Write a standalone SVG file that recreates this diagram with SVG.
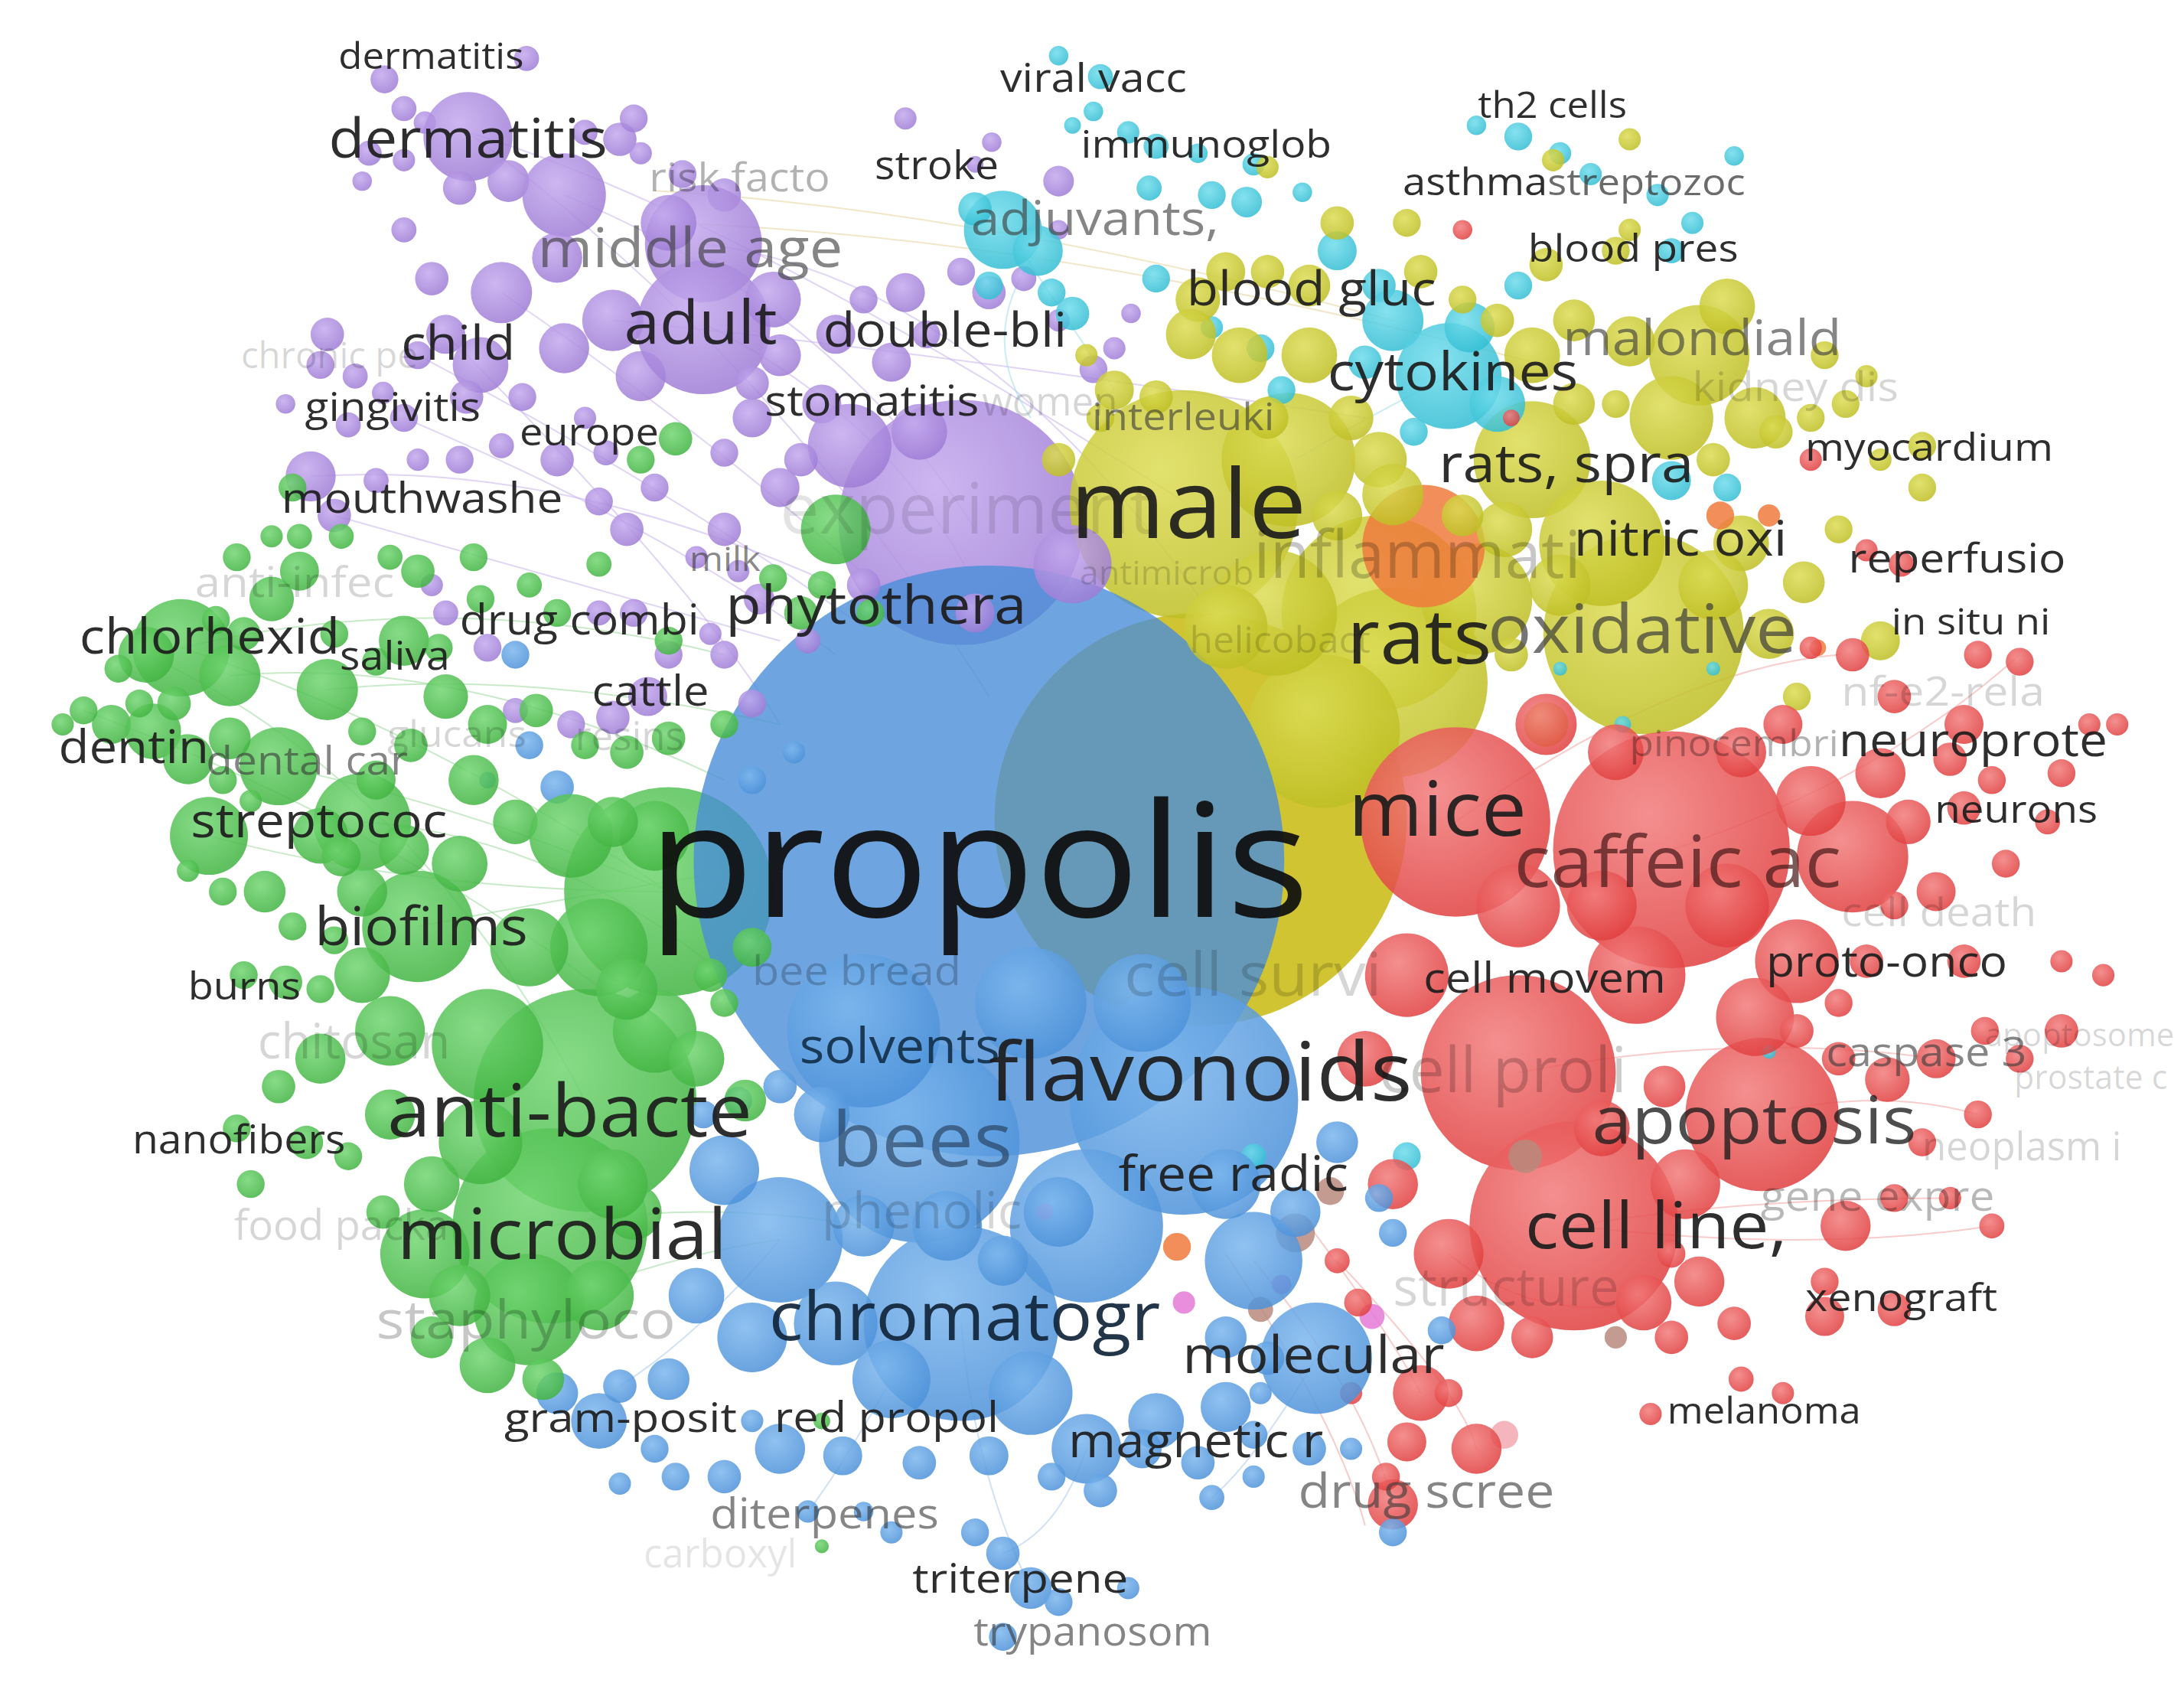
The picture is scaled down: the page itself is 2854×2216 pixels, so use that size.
<svg xmlns="http://www.w3.org/2000/svg" width="2854" height="2216" viewBox="0 0 2854 2216">
<defs>
<radialGradient id="Gp" cx="0.4" cy="0.35" r="0.7"><stop offset="0" stop-color="#c4a9ee"/><stop offset="1" stop-color="#9c7ad4"/></radialGradient>
<radialGradient id="Gg" cx="0.4" cy="0.35" r="0.7"><stop offset="0" stop-color="#72d672"/><stop offset="1" stop-color="#3fb23f"/></radialGradient>
<radialGradient id="Gb" cx="0.4" cy="0.35" r="0.7"><stop offset="0" stop-color="#7db7ee"/><stop offset="1" stop-color="#4b90d8"/></radialGradient>
<radialGradient id="Gy" cx="0.4" cy="0.35" r="0.7"><stop offset="0" stop-color="#dcdc55"/><stop offset="1" stop-color="#bdbd22"/></radialGradient>
<radialGradient id="Gr" cx="0.4" cy="0.35" r="0.7"><stop offset="0" stop-color="#f27c7c"/><stop offset="1" stop-color="#e03c3c"/></radialGradient>
<radialGradient id="Gc" cx="0.4" cy="0.35" r="0.7"><stop offset="0" stop-color="#70dcec"/><stop offset="1" stop-color="#30bcd2"/></radialGradient>
<style>
.p{fill:url(#Gp);fill-opacity:.85}
.g{fill:url(#Gg);fill-opacity:.85}
.b{fill:url(#Gb);fill-opacity:.85}
.y{fill:url(#Gy);fill-opacity:.85}
.r{fill:url(#Gr);fill-opacity:.85}
.c{fill:url(#Gc);fill-opacity:.85}
.o{fill:#ef7a3c;fill-opacity:.85}
.w{fill:#b8897c;fill-opacity:.85}
.k{fill:#e57ad6;fill-opacity:.85}
.lp{fill:#f2a8b0;fill-opacity:.85}
#connectors path{fill:none;stroke-width:1.1;stroke-opacity:.55}
.cp{stroke:#c7b3ec}.cg{stroke:#9dd89d}.cr{stroke:#f3a3a3}.cc{stroke:#9fdfea}.cb{stroke:#a9c8ec}.cy{stroke:#e6d49a}
text{font-family:"Open Sans","DejaVu Sans",sans-serif}
.d{fill:#1c1c1c;fill-opacity:.92}
.m{fill:#3a3a3a;fill-opacity:.62}
.f{fill:#000;fill-opacity:.16}
</style>
</defs>
<rect width="2854" height="2216" fill="#fff"/>
<g transform="scale(1.8202)">
<g id="connectors">
<path class="cp" d="M336,95 Q520,150 850,360"/>
<path class="cp" d="M505,175 Q700,200 862,430"/>
<path class="cp" d="M405,140 Q600,220 700,380"/>
<path class="cp" d="M336,95 Q560,260 710,500"/>
<path class="cp" d="M505,232 Q640,300 700,420"/>
<path class="cp" d="M360,210 Q520,320 640,430"/>
<path class="cp" d="M223,342 Q400,330 600,420"/>
<path class="cp" d="M300,255 Q480,350 620,450"/>
<path class="cy" d="M470,137 Q700,150 1000,230"/>
<path class="cy" d="M480,160 Q760,170 1100,260"/>
<path class="cp" d="M440,230 Q650,250 980,300"/>
<path class="cp" d="M320,240 Q500,420 560,520"/>
<path class="cp" d="M240,370 Q420,420 560,460"/>
<path class="cp" d="M290,300 Q480,380 600,470"/>
<path class="cg" d="M130,465 Q300,520 480,640"/>
<path class="cg" d="M200,550 Q340,580 480,640"/>
<path class="cg" d="M165,485 Q330,470 520,560"/>
<path class="cg" d="M105,470 Q300,560 420,790"/>
<path class="cg" d="M150,600 Q300,640 480,640"/>
<path class="cg" d="M260,590 Q400,600 520,700"/>
<path class="cg" d="M300,665 Q430,640 560,620"/>
<path class="cg" d="M235,495 Q380,480 560,520"/>
<path class="cg" d="M130,465 Q320,420 520,470"/>
<path class="cg" d="M395,880 Q500,860 620,880"/>
<path class="cg" d="M380,940 Q480,900 560,890"/>
<path class="cg" d="M60,510 Q300,600 470,740"/>
<path class="cr" d="M1130,880 Q1250,860 1400,860"/>
<path class="cr" d="M1130,880 Q1300,900 1430,880"/>
<path class="cr" d="M1090,770 Q1250,740 1390,760"/>
<path class="cr" d="M1200,610 Q1350,560 1450,470"/>
<path class="cr" d="M1265,800 Q1350,780 1420,800"/>
<path class="cr" d="M1045,590 Q1200,480 1320,470"/>
<path class="cr" d="M960,905 Q1050,1000 1060,1040"/>
<path class="cr" d="M900,905 Q980,1000 1000,1080"/>
<path class="cr" d="M1040,900 Q1100,950 1180,935"/>
<path class="cr" d="M940,880 Q1000,960 1020,1000"/>
<path class="cr" d="M880,900 Q960,1020 980,1095"/>
<path class="cc" d="M720,160 Q760,220 800,280"/>
<path class="cc" d="M745,180 Q700,240 740,300"/>
<path class="cc" d="M1040,270 Q980,300 930,330"/>
<path class="cb" d="M690,950 Q700,1060 740,1140"/>
<path class="cb" d="M560,890 Q500,960 445,995"/>
<path class="cb" d="M945,975 Q900,1050 870,1075"/>
<path class="cb" d="M780,1040 Q760,1100 720,1115"/>
<path class="cb" d="M640,990 Q600,1060 580,1085"/>
</g>
<g id="bubbles">
<circle class="p" cx="690" cy="375" r="88"/>
<circle cx="862" cy="588" r="148" fill="#cdbf22" fill-opacity=".92"/>
<circle class="y" cx="850" cy="362" r="82"/>
<circle class="y" cx="990" cy="440" r="70"/>
<circle class="y" cx="1000" cy="490" r="68"/>
<circle class="y" cx="1180" cy="455" r="72"/>
<circle class="y" cx="925" cy="330" r="48"/>
<circle class="y" cx="950" cy="525" r="55"/>
<circle class="y" cx="915" cy="440" r="45"/>
<circle class="y" cx="1100" cy="330" r="42"/>
<circle class="y" cx="1150" cy="390" r="45"/>
<circle class="y" cx="1060" cy="430" r="40"/>
<circle class="o" cx="1022" cy="392" r="44"/>
<circle class="g" cx="480" cy="640" r="75"/>
<circle class="g" cx="420" cy="790" r="80"/>
<circle class="g" cx="395" cy="880" r="70"/>
<circle cx="710" cy="618" r="212" fill="#4a8fd8" fill-opacity=".8"/>
<circle class="p" cx="770" cy="405" r="28"/>
<circle class="b" cx="850" cy="790" r="82"/>
<circle class="b" cx="660" cy="820" r="72"/>
<circle class="b" cx="690" cy="950" r="70"/>
<circle class="b" cx="620" cy="740" r="55"/>
<circle class="b" cx="780" cy="880" r="55"/>
<circle class="r" cx="1045" cy="590" r="68"/>
<circle class="r" cx="1200" cy="610" r="85"/>
<circle class="r" cx="1090" cy="770" r="70"/>
<circle class="r" cx="1265" cy="800" r="55"/>
<circle class="r" cx="1130" cy="880" r="75"/>
<!-- purple small -->
<circle class="p" cx="378" cy="42" r="9"/><circle class="p" cx="276" cy="57" r="10"/><circle class="p" cx="290" cy="78" r="9"/><circle class="p" cx="305" cy="88" r="8"/><circle class="p" cx="336" cy="98" r="32"/><circle class="p" cx="265" cy="110" r="9"/><circle class="p" cx="290" cy="115" r="8"/><circle class="p" cx="260" cy="130" r="7"/><circle class="p" cx="330" cy="135" r="12"/><circle class="p" cx="365" cy="130" r="15"/><circle class="p" cx="405" cy="140" r="30"/><circle class="p" cx="445" cy="100" r="12"/><circle class="p" cx="455" cy="85" r="10"/><circle class="p" cx="420" cy="95" r="9"/><circle class="p" cx="460" cy="110" r="8"/><circle class="p" cx="490" cy="125" r="10"/><circle class="p" cx="520" cy="140" r="12"/><circle class="p" cx="505" cy="175" r="42"/><circle class="p" cx="480" cy="160" r="20"/><circle class="p" cx="400" cy="185" r="18"/><circle class="p" cx="360" cy="210" r="22"/><circle class="p" cx="310" cy="200" r="12"/><circle class="p" cx="290" cy="165" r="9"/><circle class="p" cx="320" cy="240" r="14"/><circle class="p" cx="300" cy="255" r="10"/><circle class="p" cx="235" cy="240" r="12"/><circle class="p" cx="230" cy="262" r="10"/><circle class="p" cx="255" cy="270" r="9"/><circle class="p" cx="275" cy="282" r="8"/><circle class="p" cx="345" cy="262" r="20"/><circle class="p" cx="405" cy="250" r="18"/><circle class="p" cx="440" cy="230" r="22"/><circle class="p" cx="460" cy="270" r="18"/><circle class="p" cx="505" cy="235" r="48"/><circle class="p" cx="555" cy="215" r="20"/><circle class="p" cx="560" cy="255" r="15"/><circle class="p" cx="540" cy="275" r="12"/><circle class="p" cx="600" cy="240" r="14"/><circle class="p" cx="620" cy="215" r="10"/><circle class="p" cx="650" cy="210" r="14"/><circle class="p" cx="665" cy="240" r="10"/><circle class="p" cx="710" cy="210" r="12"/><circle class="p" cx="735" cy="200" r="9"/><circle class="p" cx="690" cy="195" r="10"/><circle class="p" cx="650" cy="85" r="8"/><circle class="p" cx="712" cy="102" r="7"/><circle class="p" cx="700" cy="118" r="6"/><circle class="p" cx="760" cy="130" r="11"/><circle class="p" cx="812" cy="225" r="7"/><circle class="p" cx="800" cy="250" r="8"/><circle class="p" cx="785" cy="265" r="10"/><circle class="p" cx="540" cy="300" r="14"/><circle class="p" cx="520" cy="325" r="10"/><circle class="p" cx="590" cy="290" r="14"/><circle class="p" cx="610" cy="320" r="30"/><circle class="p" cx="660" cy="310" r="20"/><circle class="p" cx="640" cy="260" r="14"/><circle class="p" cx="575" cy="330" r="12"/><circle class="p" cx="560" cy="350" r="14"/><circle class="p" cx="520" cy="380" r="12"/><circle class="p" cx="500" cy="400" r="8"/><circle class="p" cx="470" cy="350" r="10"/><circle class="p" cx="450" cy="380" r="12"/><circle class="p" cx="430" cy="360" r="10"/><circle class="p" cx="420" cy="300" r="8"/><circle class="p" cx="400" cy="330" r="12"/><circle class="p" cx="360" cy="320" r="9"/><circle class="p" cx="330" cy="330" r="10"/><circle class="p" cx="300" cy="330" r="8"/><circle class="p" cx="270" cy="345" r="9"/><circle class="p" cx="223" cy="342" r="18"/><circle class="p" cx="240" cy="370" r="12"/><circle class="p" cx="205" cy="290" r="7"/><circle class="p" cx="250" cy="305" r="9"/><circle class="p" cx="290" cy="300" r="10"/><circle class="p" cx="335" cy="285" r="12"/><circle class="p" cx="375" cy="285" r="10"/><circle class="p" cx="435" cy="325" r="9"/><circle class="p" cx="455" cy="440" r="10"/><circle class="p" cx="430" cy="440" r="9"/><circle class="p" cx="510" cy="455" r="8"/><circle class="p" cx="520" cy="470" r="10"/><circle class="p" cx="480" cy="470" r="10"/><circle class="p" cx="465" cy="500" r="14"/><circle class="p" cx="440" cy="515" r="12"/><circle class="p" cx="410" cy="520" r="10"/><circle class="p" cx="370" cy="510" r="9"/><circle class="p" cx="320" cy="440" r="9"/><circle class="p" cx="350" cy="465" r="10"/><circle class="p" cx="310" cy="420" r="8"/><circle class="p" cx="530" cy="410" r="8"/><circle class="p" cx="545" cy="430" r="11"/><circle class="p" cx="620" cy="420" r="12"/><circle class="p" cx="540" cy="505" r="10"/><circle class="p" cx="580" cy="460" r="9"/><circle class="p" cx="760" cy="165" r="7"/><circle class="p" cx="760" cy="230" r="8"/><circle class="p" cx="700" cy="440" r="14"/>
<!-- cyan -->
<circle class="c" cx="760" cy="40" r="7"/><circle class="c" cx="790" cy="55" r="9"/><circle class="c" cx="785" cy="80" r="7"/><circle class="c" cx="770" cy="90" r="6"/><circle class="c" cx="810" cy="95" r="8"/><circle class="c" cx="830" cy="105" r="9"/><circle class="c" cx="860" cy="110" r="7"/><circle class="c" cx="900" cy="118" r="8"/><circle class="c" cx="825" cy="135" r="9"/><circle class="c" cx="870" cy="140" r="10"/><circle class="c" cx="895" cy="145" r="11"/><circle class="c" cx="935" cy="138" r="7"/><circle class="c" cx="720" cy="165" r="28"/><circle class="c" cx="745" cy="180" r="18"/><circle class="c" cx="700" cy="150" r="12"/><circle class="c" cx="710" cy="205" r="10"/><circle class="c" cx="755" cy="210" r="10"/><circle class="c" cx="770" cy="225" r="12"/><circle class="c" cx="830" cy="200" r="10"/><circle class="c" cx="870" cy="235" r="8"/><circle class="c" cx="905" cy="250" r="10"/><circle class="c" cx="960" cy="180" r="14"/><circle class="c" cx="990" cy="205" r="12"/><circle class="c" cx="1000" cy="230" r="22"/><circle class="c" cx="980" cy="260" r="12"/><circle class="c" cx="1040" cy="270" r="38"/><circle class="c" cx="1055" cy="235" r="18"/><circle class="c" cx="1075" cy="290" r="20"/><circle class="c" cx="1015" cy="310" r="10"/><circle class="c" cx="1060" cy="90" r="7"/><circle class="c" cx="1090" cy="98" r="10"/><circle class="c" cx="1120" cy="110" r="8"/><circle class="c" cx="1142" cy="125" r="8"/><circle class="c" cx="1190" cy="140" r="8"/><circle class="c" cx="1245" cy="112" r="7"/><circle class="c" cx="1215" cy="160" r="8"/><circle class="c" cx="1200" cy="180" r="9"/><circle class="c" cx="1090" cy="205" r="10"/><circle class="c" cx="920" cy="280" r="10"/><circle class="c" cx="1200" cy="345" r="14"/><circle class="c" cx="1240" cy="350" r="10"/><circle class="c" cx="1120" cy="480" r="5"/><circle class="c" cx="1165" cy="520" r="6"/><circle class="c" cx="1230" cy="480" r="5"/><circle class="c" cx="1270" cy="755" r="5"/><circle class="c" cx="1010" cy="830" r="10"/><circle class="c" cx="900" cy="830" r="9"/>
<!-- yellow -->
<circle class="y" cx="1220" cy="255" r="36"/><circle class="y" cx="1200" cy="300" r="30"/><circle class="y" cx="1260" cy="300" r="22"/><circle class="y" cx="1240" cy="220" r="20"/><circle class="y" cx="1170" cy="245" r="18"/><circle class="y" cx="1130" cy="230" r="15"/><circle class="y" cx="1100" cy="255" r="20"/><circle class="y" cx="1110" cy="190" r="12"/><circle class="y" cx="1160" cy="180" r="10"/><circle class="y" cx="1075" cy="230" r="12"/><circle class="y" cx="1010" cy="160" r="10"/><circle class="y" cx="1020" cy="195" r="12"/><circle class="y" cx="1050" cy="215" r="10"/><circle class="y" cx="960" cy="160" r="12"/><circle class="y" cx="940" cy="205" r="15"/><circle class="y" cx="910" cy="195" r="12"/><circle class="y" cx="880" cy="195" r="14"/><circle class="y" cx="860" cy="215" r="16"/><circle class="y" cx="855" cy="240" r="18"/><circle class="y" cx="890" cy="255" r="20"/><circle class="y" cx="940" cy="255" r="20"/><circle class="y" cx="970" cy="300" r="16"/><circle class="y" cx="990" cy="330" r="20"/><circle class="y" cx="1000" cy="355" r="22"/><circle class="y" cx="960" cy="370" r="18"/><circle class="y" cx="1130" cy="290" r="15"/><circle class="y" cx="1160" cy="290" r="10"/><circle class="y" cx="1230" cy="330" r="12"/><circle class="y" cx="1275" cy="310" r="12"/><circle class="y" cx="1300" cy="300" r="10"/><circle class="y" cx="1325" cy="290" r="10"/><circle class="y" cx="1310" cy="255" r="10"/><circle class="y" cx="1340" cy="270" r="8"/><circle class="y" cx="1350" cy="330" r="8"/><circle class="y" cx="1380" cy="350" r="10"/><circle class="y" cx="1380" cy="320" r="10"/><circle class="y" cx="1295" cy="418" r="15"/><circle class="y" cx="1350" cy="460" r="14"/><circle class="y" cx="1320" cy="380" r="10"/><circle class="y" cx="1250" cy="390" r="20"/><circle class="y" cx="1230" cy="420" r="25"/><circle class="y" cx="1270" cy="455" r="18"/><circle class="y" cx="1290" cy="500" r="10"/><circle class="y" cx="1115" cy="115" r="8"/><circle class="y" cx="1170" cy="100" r="8"/><circle class="y" cx="1170" cy="165" r="8"/><circle class="y" cx="910" cy="120" r="8"/><circle class="y" cx="1080" cy="380" r="20"/><circle class="y" cx="1120" cy="420" r="22"/><circle class="y" cx="1050" cy="370" r="15"/><circle class="y" cx="880" cy="450" r="30"/><circle class="y" cx="800" cy="280" r="14"/><circle class="y" cx="790" cy="300" r="10"/><circle class="y" cx="760" cy="330" r="12"/><circle class="y" cx="780" cy="255" r="8"/><circle class="y" cx="830" cy="285" r="12"/><circle class="y" cx="910" cy="300" r="15"/><circle class="y" cx="1110" cy="520" r="16"/><circle class="y" cx="1085" cy="470" r="12"/>
<!-- orange/brown/pink -->
<circle class="o" cx="1235" cy="370" r="10"/><circle class="o" cx="1270" cy="370" r="8"/><circle class="o" cx="845" cy="895" r="10"/><circle class="o" cx="1305" cy="465" r="6"/>
<circle class="w" cx="1095" cy="830" r="12"/><circle class="w" cx="955" cy="855" r="10"/><circle class="w" cx="905" cy="940" r="9"/><circle class="k" cx="920" cy="922" r="7"/><circle class="k" cx="850" cy="935" r="8"/><circle class="k" cx="985" cy="945" r="9"/><circle class="k" cx="750" cy="870" r="6"/><circle class="lp" cx="1080" cy="1030" r="10"/><circle class="w" cx="1160" cy="960" r="8"/><circle class="w" cx="930" cy="885" r="14"/>
<!-- red small -->
<circle class="r" cx="1330" cy="615" r="40"/><circle class="r" cx="1290" cy="690" r="30"/><circle class="r" cx="1175" cy="700" r="35"/><circle class="r" cx="1260" cy="730" r="28"/><circle class="r" cx="1300" cy="575" r="25"/><circle class="r" cx="1350" cy="555" r="18"/><circle class="r" cx="1400" cy="545" r="12"/><circle class="r" cx="1410" cy="520" r="14"/><circle class="r" cx="1360" cy="500" r="12"/><circle class="r" cx="1330" cy="470" r="12"/><circle class="r" cx="1420" cy="470" r="10"/><circle class="r" cx="1450" cy="475" r="10"/><circle class="r" cx="1300" cy="465" r="8"/><circle class="r" cx="1280" cy="520" r="14"/><circle class="r" cx="1250" cy="540" r="18"/><circle class="r" cx="1160" cy="540" r="20"/><circle class="r" cx="1110" cy="520" r="22"/><circle class="r" cx="1090" cy="650" r="30"/><circle class="r" cx="1010" cy="700" r="30"/><circle class="r" cx="980" cy="760" r="20"/><circle class="r" cx="1000" cy="850" r="18"/><circle class="r" cx="1040" cy="900" r="25"/><circle class="r" cx="1060" cy="950" r="20"/><circle class="r" cx="1020" cy="1000" r="20"/><circle class="r" cx="1010" cy="1035" r="14"/><circle class="r" cx="1060" cy="1040" r="18"/><circle class="r" cx="1000" cy="1080" r="18"/><circle class="r" cx="995" cy="1060" r="10"/><circle class="r" cx="960" cy="905" r="9"/><circle class="r" cx="975" cy="935" r="10"/><circle class="r" cx="1100" cy="960" r="15"/><circle class="r" cx="1180" cy="935" r="20"/><circle class="r" cx="1220" cy="920" r="18"/><circle class="r" cx="1200" cy="960" r="12"/><circle class="r" cx="1245" cy="950" r="12"/><circle class="r" cx="1310" cy="945" r="14"/><circle class="r" cx="1360" cy="940" r="12"/><circle class="r" cx="1325" cy="880" r="18"/><circle class="r" cx="1360" cy="860" r="10"/><circle class="r" cx="1400" cy="860" r="8"/><circle class="r" cx="1430" cy="880" r="9"/><circle class="r" cx="1380" cy="820" r="10"/><circle class="r" cx="1420" cy="800" r="10"/><circle class="r" cx="1450" cy="760" r="10"/><circle class="r" cx="1480" cy="740" r="12"/><circle class="r" cx="1510" cy="700" r="8"/><circle class="r" cx="1480" cy="690" r="8"/><circle class="r" cx="1425" cy="740" r="10"/><circle class="r" cx="1390" cy="760" r="14"/><circle class="r" cx="1355" cy="775" r="16"/><circle class="r" cx="1320" cy="760" r="12"/><circle class="r" cx="1290" cy="740" r="12"/><circle class="r" cx="1410" cy="690" r="12"/><circle class="r" cx="1390" cy="640" r="14"/><circle class="r" cx="1440" cy="620" r="10"/><circle class="r" cx="1470" cy="590" r="9"/><circle class="r" cx="1480" cy="555" r="10"/><circle class="r" cx="1500" cy="520" r="8"/><circle class="r" cx="1520" cy="520" r="8"/><circle class="r" cx="1430" cy="560" r="10"/><circle class="r" cx="1410" cy="580" r="12"/><circle class="r" cx="1370" cy="590" r="16"/><circle class="r" cx="1360" cy="650" r="10"/><circle class="r" cx="1320" cy="720" r="10"/><circle class="r" cx="1200" cy="900" r="10"/><circle class="r" cx="1185" cy="1015" r="8"/><circle class="r" cx="1250" cy="990" r="9"/><circle class="r" cx="1280" cy="1000" r="8"/><circle class="r" cx="1310" cy="920" r="10"/><circle class="r" cx="1040" cy="1000" r="10"/><circle class="r" cx="970" cy="1000" r="8"/><circle class="r" cx="1150" cy="810" r="20"/><circle class="r" cx="1210" cy="850" r="25"/><circle class="r" cx="1195" cy="780" r="15"/><circle class="r" cx="1340" cy="690" r="12"/><circle class="r" cx="1300" cy="330" r="8"/><circle class="r" cx="1340" cy="395" r="8"/><circle class="r" cx="1365" cy="405" r="9"/><circle class="r" cx="1050" cy="165" r="7"/><circle class="r" cx="1085" cy="300" r="6"/><circle class="r" cx="1240" cy="650" r="30"/><circle class="r" cx="1150" cy="650" r="25"/>
<!-- blue small -->
<circle class="b" cx="945" cy="975" r="40"/><circle class="b" cx="560" cy="890" r="45"/><circle class="b" cx="900" cy="905" r="35"/><circle class="b" cx="740" cy="720" r="40"/><circle class="b" cx="820" cy="720" r="35"/><circle class="b" cx="600" cy="950" r="30"/><circle class="b" cx="640" cy="990" r="28"/><circle class="b" cx="740" cy="1000" r="30"/><circle class="b" cx="780" cy="1040" r="25"/><circle class="b" cx="830" cy="1020" r="20"/><circle class="b" cx="880" cy="1010" r="18"/><circle class="b" cx="520" cy="840" r="25"/><circle class="b" cx="540" cy="960" r="25"/><circle class="b" cx="500" cy="930" r="20"/><circle class="b" cx="480" cy="990" r="15"/><circle class="b" cx="430" cy="1020" r="20"/><circle class="b" cx="400" cy="1000" r="15"/><circle class="b" cx="445" cy="995" r="12"/><circle class="b" cx="470" cy="1040" r="10"/><circle class="b" cx="520" cy="1060" r="12"/><circle class="b" cx="560" cy="1040" r="18"/><circle class="b" cx="605" cy="1045" r="14"/><circle class="b" cx="660" cy="1050" r="12"/><circle class="b" cx="710" cy="1045" r="14"/><circle class="b" cx="755" cy="1060" r="10"/><circle class="b" cx="790" cy="1070" r="12"/><circle class="b" cx="820" cy="1040" r="14"/><circle class="b" cx="860" cy="1050" r="12"/><circle class="b" cx="900" cy="1030" r="10"/><circle class="b" cx="940" cy="1040" r="12"/><circle class="b" cx="970" cy="1040" r="8"/><circle class="b" cx="640" cy="1100" r="8"/><circle class="b" cx="580" cy="1085" r="8"/><circle class="b" cx="620" cy="1085" r="7"/><circle class="b" cx="700" cy="1100" r="10"/><circle class="b" cx="720" cy="1115" r="12"/><circle class="b" cx="740" cy="1140" r="15"/><circle class="b" cx="760" cy="1150" r="10"/><circle class="b" cx="810" cy="1140" r="8"/><circle class="b" cx="720" cy="1175" r="10"/><circle class="b" cx="540" cy="1020" r="8"/><circle class="b" cx="870" cy="1075" r="9"/><circle class="b" cx="900" cy="1060" r="8"/><circle class="b" cx="540" cy="560" r="10"/><circle class="b" cx="570" cy="540" r="8"/><circle class="b" cx="380" cy="535" r="10"/><circle class="b" cx="400" cy="565" r="12"/><circle class="b" cx="370" cy="470" r="10"/><circle class="b" cx="350" cy="560" r="6"/><circle class="b" cx="760" cy="870" r="25"/><circle class="b" cx="880" cy="850" r="25"/><circle class="b" cx="930" cy="870" r="18"/><circle class="b" cx="960" cy="820" r="15"/><circle class="b" cx="990" cy="860" r="10"/><circle class="b" cx="1000" cy="885" r="10"/><circle class="b" cx="720" cy="905" r="18"/><circle class="b" cx="620" cy="880" r="22"/><circle class="b" cx="680" cy="880" r="25"/><circle class="b" cx="590" cy="800" r="20"/><circle class="b" cx="560" cy="780" r="12"/><circle class="b" cx="530" cy="790" r="10"/><circle class="b" cx="505" cy="800" r="10"/><circle class="b" cx="1000" cy="1100" r="10"/><circle class="b" cx="910" cy="975" r="12"/><circle class="b" cx="880" cy="960" r="15"/><circle class="b" cx="485" cy="1060" r="10"/><circle class="b" cx="445" cy="1065" r="8"/><circle class="b" cx="905" cy="1000" r="8"/><circle class="b" cx="1035" cy="955" r="10"/>
<!-- green small -->
<circle class="g" cx="300" cy="665" r="40"/><circle class="g" cx="130" cy="465" r="35"/><circle class="g" cx="200" cy="550" r="28"/><circle class="g" cx="150" cy="600" r="28"/><circle class="g" cx="260" cy="590" r="35"/><circle class="g" cx="350" cy="750" r="40"/><circle class="g" cx="345" cy="820" r="30"/><circle class="g" cx="380" cy="940" r="40"/><circle class="g" cx="305" cy="900" r="32"/><circle class="g" cx="235" cy="495" r="22"/><circle class="g" cx="165" cy="485" r="22"/><circle class="g" cx="105" cy="470" r="20"/><circle class="g" cx="80" cy="520" r="14"/><circle class="g" cx="60" cy="510" r="10"/><circle class="g" cx="45" cy="520" r="8"/><circle class="g" cx="110" cy="525" r="20"/><circle class="g" cx="135" cy="545" r="18"/><circle class="g" cx="165" cy="530" r="15"/><circle class="g" cx="175" cy="455" r="12"/><circle class="g" cx="195" cy="430" r="16"/><circle class="g" cx="215" cy="410" r="14"/><circle class="g" cx="170" cy="400" r="10"/><circle class="g" cx="195" cy="385" r="8"/><circle class="g" cx="215" cy="385" r="9"/><circle class="g" cx="245" cy="385" r="9"/><circle class="g" cx="280" cy="400" r="9"/><circle class="g" cx="300" cy="410" r="12"/><circle class="g" cx="340" cy="400" r="10"/><circle class="g" cx="345" cy="430" r="10"/><circle class="g" cx="380" cy="420" r="9"/><circle class="g" cx="400" cy="440" r="10"/><circle class="g" cx="290" cy="460" r="18"/><circle class="g" cx="320" cy="500" r="16"/><circle class="g" cx="350" cy="520" r="14"/><circle class="g" cx="385" cy="510" r="12"/><circle class="g" cx="420" cy="535" r="10"/><circle class="g" cx="450" cy="540" r="12"/><circle class="g" cx="480" cy="530" r="12"/><circle class="g" cx="520" cy="520" r="10"/><circle class="g" cx="340" cy="560" r="18"/><circle class="g" cx="370" cy="590" r="16"/><circle class="g" cx="410" cy="600" r="30"/><circle class="g" cx="430" cy="680" r="35"/><circle class="g" cx="380" cy="680" r="28"/><circle class="g" cx="270" cy="560" r="14"/><circle class="g" cx="230" cy="600" r="20"/><circle class="g" cx="190" cy="640" r="15"/><circle class="g" cx="160" cy="640" r="10"/><circle class="g" cx="135" cy="625" r="8"/><circle class="g" cx="175" cy="700" r="10"/><circle class="g" cx="205" cy="705" r="12"/><circle class="g" cx="230" cy="710" r="10"/><circle class="g" cx="260" cy="700" r="20"/><circle class="g" cx="280" cy="740" r="25"/><circle class="g" cx="230" cy="760" r="18"/><circle class="g" cx="200" cy="780" r="12"/><circle class="g" cx="170" cy="810" r="10"/><circle class="g" cx="180" cy="850" r="10"/><circle class="g" cx="220" cy="820" r="12"/><circle class="g" cx="250" cy="830" r="10"/><circle class="g" cx="275" cy="870" r="12"/><circle class="g" cx="280" cy="800" r="18"/><circle class="g" cx="310" cy="850" r="20"/><circle class="g" cx="330" cy="930" r="22"/><circle class="g" cx="310" cy="960" r="15"/><circle class="g" cx="350" cy="980" r="20"/><circle class="g" cx="390" cy="990" r="15"/><circle class="g" cx="430" cy="930" r="25"/><circle class="g" cx="455" cy="870" r="20"/><circle class="g" cx="470" cy="740" r="30"/><circle class="g" cx="500" cy="760" r="20"/><circle class="g" cx="450" cy="710" r="22"/><circle class="g" cx="540" cy="680" r="14"/><circle class="g" cx="510" cy="700" r="12"/><circle class="g" cx="535" cy="790" r="15"/><circle class="g" cx="520" cy="720" r="10"/><circle class="g" cx="480" cy="460" r="10"/><circle class="g" cx="555" cy="415" r="10"/><circle class="g" cx="590" cy="420" r="10"/><circle class="g" cx="440" cy="850" r="25"/><circle class="g" cx="260" cy="640" r="18"/><circle class="g" cx="330" cy="620" r="20"/><circle class="g" cx="470" cy="600" r="25"/><circle class="g" cx="440" cy="590" r="18"/><circle class="g" cx="85" cy="480" r="10"/><circle class="g" cx="100" cy="505" r="10"/><circle class="g" cx="125" cy="505" r="12"/><circle class="g" cx="155" cy="445" r="10"/><circle class="g" cx="240" cy="455" r="10"/><circle class="g" cx="270" cy="475" r="10"/><circle class="g" cx="315" cy="465" r="10"/><circle class="g" cx="260" cy="525" r="10"/><circle class="g" cx="295" cy="535" r="12"/><circle class="g" cx="160" cy="560" r="10"/><circle class="g" cx="180" cy="575" r="8"/><circle class="g" cx="245" cy="615" r="14"/><circle class="g" cx="210" cy="665" r="10"/><circle class="g" cx="240" cy="675" r="10"/><circle class="g" cx="290" cy="610" r="18"/><circle class="g" cx="590" cy="1020" r="6"/><circle class="g" cx="590" cy="1110" r="5"/><circle class="g" cx="460" cy="330" r="10"/><circle class="g" cx="485" cy="315" r="12"/><circle class="g" cx="600" cy="380" r="25"/><circle class="g" cx="575" cy="440" r="12"/><circle class="g" cx="625" cy="440" r="10"/><circle class="g" cx="210" cy="350" r="10"/><circle class="g" cx="430" cy="405" r="9"/>
</g>
<g id="labels">
<text id="n-dermatitis-1" class="d" x="243" y="49.5" font-size="26" textLength="133" lengthAdjust="spacingAndGlyphs">dermatitis</text>
<text id="n-dermatitis-2" class="d" x="236" y="113" font-size="39" textLength="200" lengthAdjust="spacingAndGlyphs">dermatitis</text>
<text id="n-risk-facto" class="f" x="466" y="137.5" font-size="28" textLength="130" lengthAdjust="spacingAndGlyphs" style="fill-opacity:.3">risk facto</text>
<text id="n-middle-age" class="m" x="386" y="192" font-size="39" textLength="219" lengthAdjust="spacingAndGlyphs">middle age</text>
<text id="n-adult" class="d" x="448" y="246.5" font-size="43" textLength="110" lengthAdjust="spacingAndGlyphs">adult</text>
<text id="n-viral-vacc" class="d" x="718" y="66" font-size="28" textLength="134" lengthAdjust="spacingAndGlyphs">viral vacc</text>
<text id="n-stroke" class="d" x="628" y="128.5" font-size="28" textLength="89" lengthAdjust="spacingAndGlyphs">stroke</text>
<text id="n-immunoglob" class="d" x="776" y="113" font-size="27" textLength="180" lengthAdjust="spacingAndGlyphs">immunoglob</text>
<text id="n-th2-cells" class="d" x="1061" y="84.5" font-size="26" textLength="107" lengthAdjust="spacingAndGlyphs">th2 cells</text>
<text id="n-asthma" class="d" x="1007" y="140" font-size="27" textLength="104" lengthAdjust="spacingAndGlyphs">asthma</text>
<text id="n-streptozoc" class="m" x="1111" y="140" font-size="26" textLength="142" lengthAdjust="spacingAndGlyphs" style="fill-opacity:.75">streptozoc</text>
<text id="n-blood-pres" class="d" x="1097" y="188" font-size="27" textLength="151" lengthAdjust="spacingAndGlyphs">blood pres</text>
<text id="n-adjuvants" class="m" x="697" y="168.5" font-size="34" textLength="178" lengthAdjust="spacingAndGlyphs">adjuvants,</text>
<text id="n-blood-gluc" class="d" x="852" y="219" font-size="34" textLength="179" lengthAdjust="spacingAndGlyphs">blood gluc</text>
<text id="n-malondiald" class="m" x="1122" y="255" font-size="35" textLength="200" lengthAdjust="spacingAndGlyphs">malondiald</text>
<text id="n-kidney-dis" class="f" x="1215" y="288" font-size="29" textLength="148" lengthAdjust="spacingAndGlyphs">kidney dis</text>
<text id="n-child" class="d" x="288" y="258" font-size="34" textLength="82" lengthAdjust="spacingAndGlyphs">child</text>
<text id="n-chronic-pe" class="f" x="173" y="264" font-size="26">chronic pe</text>
<text id="n-double-bli" class="d" x="591" y="249" font-size="34" textLength="175" lengthAdjust="spacingAndGlyphs">double-bli</text>
<text id="n-cytokines" class="d" x="953" y="280" font-size="38" textLength="180" lengthAdjust="spacingAndGlyphs">cytokines</text>
<text id="n-gingivitis" class="d" x="219" y="302" font-size="28" textLength="126" lengthAdjust="spacingAndGlyphs">gingivitis</text>
<text id="n-stomatitis" class="d" x="549" y="298.5" font-size="30" textLength="154" lengthAdjust="spacingAndGlyphs">stomatitis</text>
<text id="n-women" class="f" x="705" y="298.5" font-size="28">women</text>
<text id="n-interleuki" class="m" x="784" y="308.5" font-size="27" textLength="131" lengthAdjust="spacingAndGlyphs">interleuki</text>
<text id="n-rats-spra" class="d" x="1033" y="346" font-size="38" textLength="183" lengthAdjust="spacingAndGlyphs">rats, spra</text>
<text id="n-myocardium" class="d" x="1296" y="330.5" font-size="27" textLength="178" lengthAdjust="spacingAndGlyphs">myocardium</text>
<text id="n-europe" class="d" x="373" y="320" font-size="27" textLength="100" lengthAdjust="spacingAndGlyphs">europe</text>
<text id="n-mouthwashe" class="d" x="202" y="368" font-size="30" textLength="202" lengthAdjust="spacingAndGlyphs">mouthwashe</text>
<text id="n-experiment" class="f" x="560" y="383" font-size="50" style="fill-opacity:.11">experiment</text>
<text id="n-male" class="d" x="768" y="386" font-size="68" textLength="170" lengthAdjust="spacingAndGlyphs">male</text>
<text id="n-inflammati" class="f" x="900" y="415" font-size="47" textLength="235" lengthAdjust="spacingAndGlyphs" style="fill-opacity:.22">inflammati</text>
<text id="n-nitric-oxi" class="d" x="1130" y="399" font-size="35" textLength="153" lengthAdjust="spacingAndGlyphs">nitric oxi</text>
<text id="n-reperfusio" class="d" x="1327" y="411" font-size="29" textLength="156" lengthAdjust="spacingAndGlyphs">reperfusio</text>
<text id="n-milk" class="m" x="495" y="410" font-size="24" textLength="51" lengthAdjust="spacingAndGlyphs">milk</text>
<text id="n-anti-infec" class="f" x="140" y="428.5" font-size="30" textLength="143" lengthAdjust="spacingAndGlyphs">anti-infec</text>
<text id="n-drug-combi" class="d" x="330" y="455.5" font-size="30" textLength="172" lengthAdjust="spacingAndGlyphs">drug combi</text>
<text id="n-phytothera" class="d" x="521" y="448" font-size="38" textLength="216" lengthAdjust="spacingAndGlyphs">phytothera</text>
<text id="n-antimicrob" class="f" x="775" y="420" font-size="24" textLength="125" lengthAdjust="spacingAndGlyphs">antimicrob</text>
<text id="n-chlorhexid" class="d" x="57" y="469" font-size="35" textLength="187" lengthAdjust="spacingAndGlyphs">chlorhexid</text>
<text id="n-saliva" class="d" x="244" y="480.5" font-size="28" textLength="79" lengthAdjust="spacingAndGlyphs">saliva</text>
<text id="n-rats" class="d" x="967" y="476.5" font-size="54" textLength="104" lengthAdjust="spacingAndGlyphs">rats</text>
<text id="n-oxidative" class="m" x="1068" y="468.5" font-size="48" textLength="222" lengthAdjust="spacingAndGlyphs" style="fill-opacity:.7">oxidative</text>
<text id="n-in-situ-ni" class="d" x="1358" y="455.5" font-size="26" textLength="114" lengthAdjust="spacingAndGlyphs">in situ ni</text>
<text id="n-helicobact" class="f" x="854" y="468.5" font-size="26" textLength="130" lengthAdjust="spacingAndGlyphs">helicobact</text>
<text id="n-cattle" class="d" x="425" y="506.5" font-size="30" textLength="84" lengthAdjust="spacingAndGlyphs">cattle</text>
<text id="n-nf-e2-rela" class="f" x="1322" y="506.5" font-size="29" textLength="146" lengthAdjust="spacingAndGlyphs">nf-e2-rela</text>
<text id="n-glucans" class="f" x="278" y="536" font-size="26" textLength="100" lengthAdjust="spacingAndGlyphs">glucans</text>
<text id="n-resins" class="f" x="413" y="538.5" font-size="28">resins</text>
<text id="n-dentin" class="d" x="42" y="548" font-size="33" textLength="108" lengthAdjust="spacingAndGlyphs">dentin</text>
<text id="n-dental-car" class="m" x="148" y="556" font-size="28" textLength="145" lengthAdjust="spacingAndGlyphs">dental car</text>
<text id="n-pinocembri" class="f" x="1170" y="543" font-size="26" textLength="150" lengthAdjust="spacingAndGlyphs" style="fill-opacity:.3">pinocembri</text>
<text id="n-neuroprote" class="d" x="1320" y="543" font-size="33" textLength="193" lengthAdjust="spacingAndGlyphs">neuroprote</text>
<text id="n-streptococ" class="d" x="137" y="601" font-size="34" textLength="184" lengthAdjust="spacingAndGlyphs">streptococ</text>
<text id="n-mice" class="d" x="968" y="600" font-size="54" textLength="128" lengthAdjust="spacingAndGlyphs">mice</text>
<text id="n-neurons" class="d" x="1389" y="590.5" font-size="27" textLength="117" lengthAdjust="spacingAndGlyphs">neurons</text>
<text id="n-propolis" class="d" x="465" y="658" font-size="114" textLength="475" lengthAdjust="spacingAndGlyphs" style="fill:#0d0d0d">propolis</text>
<text id="n-caffeic-ac" class="m" x="1087" y="637" font-size="51" textLength="235" lengthAdjust="spacingAndGlyphs" style="fill:#4a1a1a;fill-opacity:.72">caffeic ac</text>
<text id="n-biofilms" class="d" x="226" y="678.5" font-size="38" textLength="153" lengthAdjust="spacingAndGlyphs">biofilms</text>
<text id="n-cell-death" class="f" x="1322" y="664.5" font-size="28" textLength="140" lengthAdjust="spacingAndGlyphs">cell death</text>
<text id="n-burns" class="d" x="135" y="717.5" font-size="27" textLength="81" lengthAdjust="spacingAndGlyphs">burns</text>
<text id="n-bee-bread" class="f" x="540" y="707" font-size="29" textLength="150" lengthAdjust="spacingAndGlyphs" style="fill-opacity:.22">bee bread</text>
<text id="n-cell-movem" class="d" x="1022" y="712.5" font-size="30" textLength="174" lengthAdjust="spacingAndGlyphs">cell movem</text>
<text id="n-proto-onco" class="d" x="1268" y="701" font-size="31" textLength="173" lengthAdjust="spacingAndGlyphs">proto-onco</text>
<text id="n-cell-survi" class="f" x="807" y="715" font-size="43" textLength="185" lengthAdjust="spacingAndGlyphs">cell survi</text>
<text id="n-chitosan" class="f" x="185" y="760" font-size="35">chitosan</text>
<text id="n-solvents" class="d" x="574" y="763" font-size="35" textLength="144" lengthAdjust="spacingAndGlyphs" style="fill:#12304a">solvents</text>
<text id="n-flavonoids" class="d" x="710" y="790" font-size="58" textLength="304" lengthAdjust="spacingAndGlyphs">flavonoids</text>
<text id="n-cell-proli" class="f" x="990" y="784" font-size="45" textLength="178" lengthAdjust="spacingAndGlyphs" style="fill-opacity:.2">cell proli</text>
<text id="n-caspase-3" class="m" x="1311" y="765.5" font-size="29" textLength="144" lengthAdjust="spacingAndGlyphs">caspase 3</text>
<text id="n-apoptosome" class="f" x="1425" y="751" font-size="23" textLength="136" lengthAdjust="spacingAndGlyphs">apoptosome</text>
<text id="n-prostate-c" class="f" x="1446" y="782" font-size="24" textLength="110" lengthAdjust="spacingAndGlyphs">prostate c</text>
<text id="n-anti-bacte" class="d" x="278" y="816" font-size="52" textLength="262" lengthAdjust="spacingAndGlyphs">anti-bacte</text>
<text id="n-nanofibers" class="d" x="95" y="828" font-size="28" textLength="153" lengthAdjust="spacingAndGlyphs">nanofibers</text>
<text id="n-bees" class="m" x="597" y="837" font-size="54" textLength="130" lengthAdjust="spacingAndGlyphs" style="fill:#1f3550;fill-opacity:.6">bees</text>
<text id="n-apoptosis" class="d" x="1143" y="821" font-size="47" textLength="233" lengthAdjust="spacingAndGlyphs" style="fill-opacity:.78">apoptosis</text>
<text id="n-neoplasm-i" class="f" x="1380" y="833" font-size="28">neoplasm i</text>
<text id="n-free-radic" class="d" x="803" y="855" font-size="35" textLength="165" lengthAdjust="spacingAndGlyphs">free radic</text>
<text id="n-gene-expre" class="f" x="1264" y="869" font-size="30" textLength="168" lengthAdjust="spacingAndGlyphs" style="fill-opacity:.28">gene expre</text>
<text id="n-food-packa" class="f" x="168" y="890" font-size="30">food packa</text>
<text id="n-microbial" class="d" x="285" y="904" font-size="50" textLength="237" lengthAdjust="spacingAndGlyphs">microbial</text>
<text id="n-phenolic" class="f" x="590" y="882" font-size="36">phenolic</text>
<text id="n-cell-line" class="d" x="1095" y="896" font-size="46" textLength="188" lengthAdjust="spacingAndGlyphs">cell line,</text>
<text id="n-staphyloco" class="f" x="270" y="961" font-size="38" textLength="215" lengthAdjust="spacingAndGlyphs" style="fill-opacity:.22">staphyloco</text>
<text id="n-chromatogr" class="d" x="552" y="962" font-size="48" textLength="281" lengthAdjust="spacingAndGlyphs" style="fill:#10253a">chromatogr</text>
<text id="n-structure" class="f" x="1000" y="937.5" font-size="38">structure</text>
<text id="n-xenograft" class="d" x="1296" y="941" font-size="27" textLength="138" lengthAdjust="spacingAndGlyphs">xenograft</text>
<text id="n-molecular" class="d" x="849" y="985.5" font-size="37" textLength="188" lengthAdjust="spacingAndGlyphs">molecular</text>
<text id="n-melanoma" class="d" x="1197" y="1022" font-size="26" textLength="139" lengthAdjust="spacingAndGlyphs">melanoma</text>
<text id="n-gram-posit" class="d" x="362" y="1028" font-size="29" textLength="167" lengthAdjust="spacingAndGlyphs">gram-posit</text>
<text id="n-red-propol" class="d" x="556" y="1028" font-size="30" textLength="161" lengthAdjust="spacingAndGlyphs">red propol</text>
<text id="n-magnetic-r" class="d" x="767" y="1046" font-size="34" textLength="183" lengthAdjust="spacingAndGlyphs">magnetic r</text>
<text id="n-drug-scree" class="m" x="932" y="1082.5" font-size="34" textLength="184" lengthAdjust="spacingAndGlyphs">drug scree</text>
<text id="n-diterpenes" class="m" x="510" y="1097" font-size="30" textLength="164" lengthAdjust="spacingAndGlyphs">diterpenes</text>
<text id="n-carboxyl" class="f" x="462" y="1125" font-size="28" style="fill-opacity:.1">carboxyl</text>
<text id="n-triterpene" class="d" x="655" y="1143.5" font-size="29" textLength="155" lengthAdjust="spacingAndGlyphs">triterpene</text>
<text id="n-trypanosom" class="m" x="699" y="1181" font-size="28" textLength="171" lengthAdjust="spacingAndGlyphs">trypanosom</text>
</g>
</g>
</svg>
